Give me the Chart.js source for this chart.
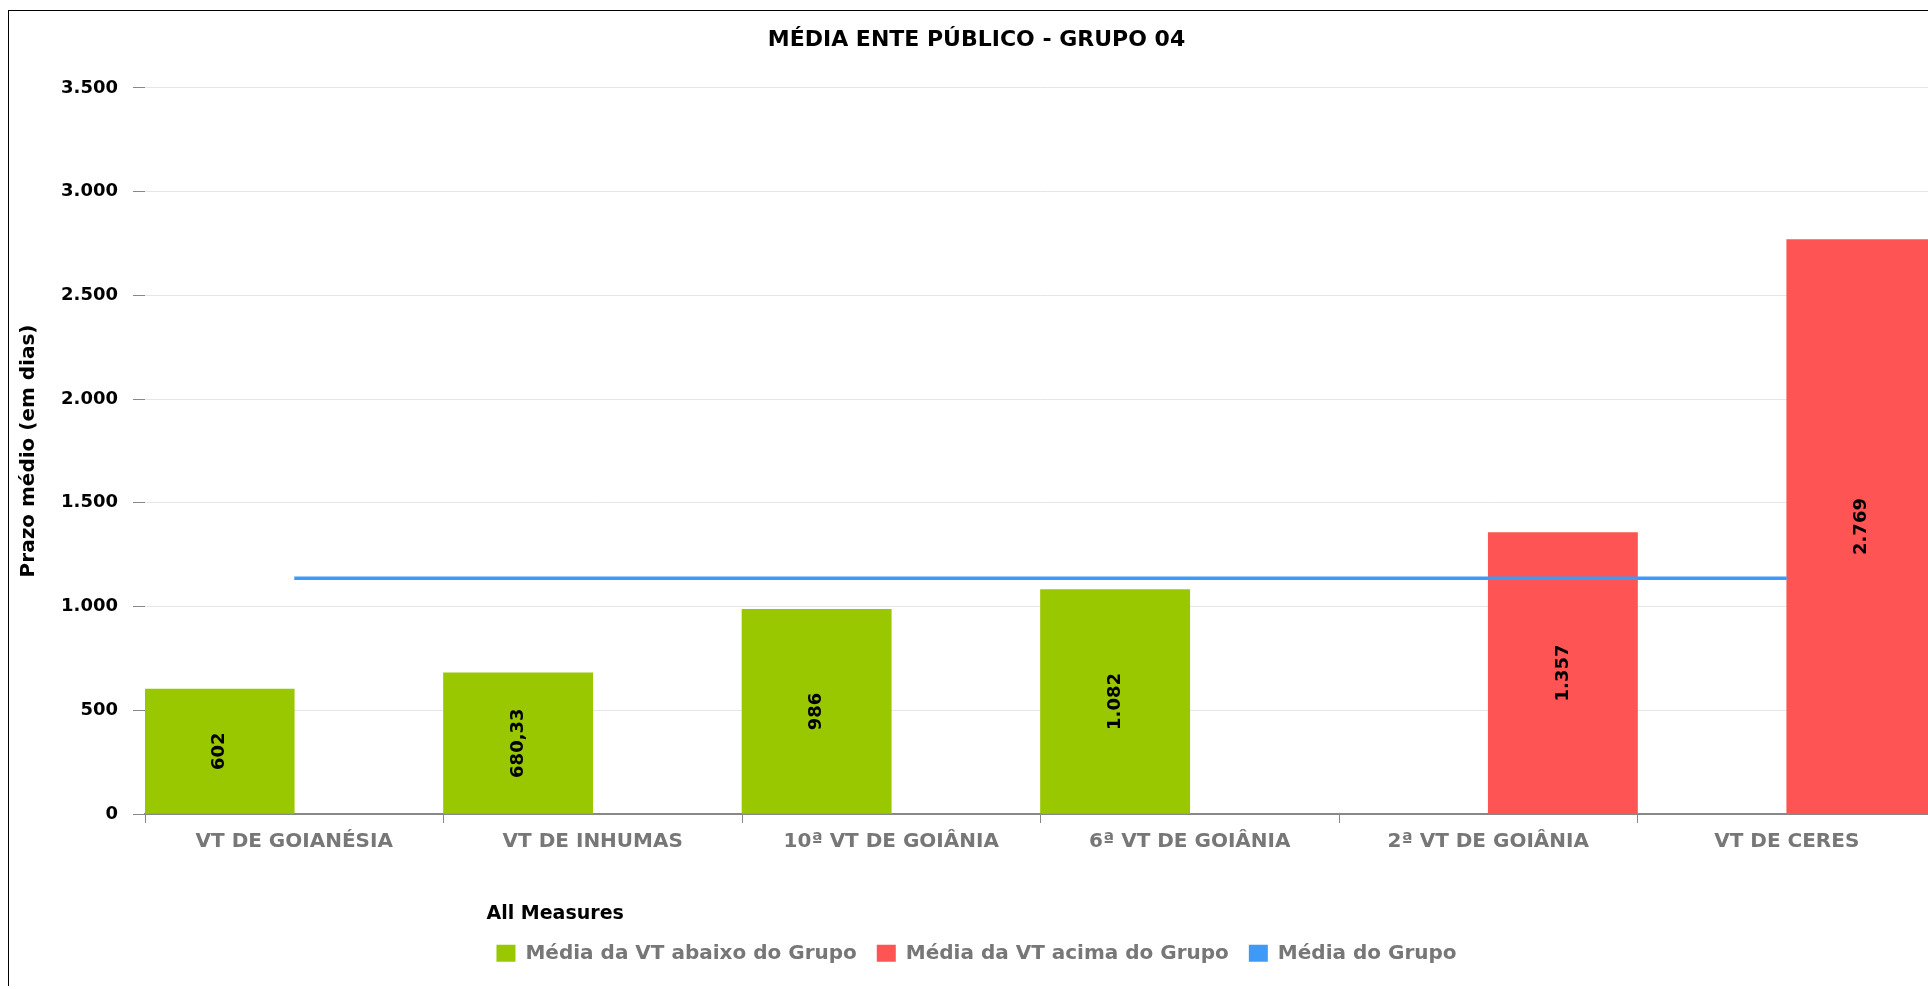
<!DOCTYPE html>
<html>
<head>
<meta charset="utf-8">
<title>Média Ente Público - Grupo 04</title>
<script src="https://cdn.jsdelivr.net/npm/chart.js@4.4.1/dist/chart.umd.min.js"></script>
<style>
    html, body { margin: 0; padding: 0; background: #fff; overflow: hidden; }
    .frame {
        position: absolute;
        left: 8px;
        top: 10px;
        width: 1935px;
        height: 975px;
        border: 1px solid #000;
        border-bottom: none;
    }
</style>
</head>
<body>
<div class="frame">
    <canvas id="chart"></canvas>
</div>
<script>
const categories = ['VT DE GOIANÉSIA', 'VT DE INHUMAS', '10ª VT DE GOIÂNIA', '6ª VT DE GOIÂNIA', '2ª VT DE GOIÂNIA', 'VT DE CERES'];
const abaixoGrupo = [602, 680.33, 986, 1082, null, null];
const acimaGrupo = [null, null, null, null, 1357, 2769];
const mediaGrupo = [1136, 1136, 1136, 1136, 1136, 1136];
const yTicks = [0, 500, 1000, 1500, 2000, 2500, 3000, 3500];

const FONT = "'DejaVu Sans', sans-serif";
const fmt = v => v.toLocaleString('pt-BR', { maximumFractionDigits: 2 });

// vertical value labels in the middle of each bar
const barLabels = {
    id: 'barLabels',
    afterDatasetsDraw(chart) {
        const ctx = chart.ctx;
        chart.data.datasets.forEach((ds, i) => {
            if (ds.type === 'line') return;
            const meta = chart.getDatasetMeta(i);
            meta.data.forEach((bar, j) => {
                const v = ds.data[j];
                if (v == null) return;
                ctx.save();
                ctx.translate(bar.x, (bar.y + bar.base) / 2);
                ctx.rotate(-Math.PI / 2);
                ctx.font = 'bold 18px ' + FONT;
                ctx.fillStyle = '#000';
                ctx.textAlign = 'center';
                ctx.textBaseline = 'middle';
                ctx.fillText(fmt(v), 0, 0);
                ctx.restore();
            });
        });
    }
};

new Chart(document.getElementById('chart'), {
    type: 'bar',
    data: {
        labels: categories,
        datasets: [
            { label: 'Média da VT abaixo do Grupo', data: abaixoGrupo, backgroundColor: '#99c800', order: 1 },
            { label: 'Média da VT acima do Grupo', data: acimaGrupo, backgroundColor: '#ff5454', order: 1 },
            {
                type: 'line', label: 'Média do Grupo', data: mediaGrupo,
                borderColor: '#3d9bf7', backgroundColor: '#3d9bf7',
                borderWidth: 3.5, pointRadius: 0, pointHoverRadius: 0, order: 0
            }
        ]
    },
    options: {
        responsive: true,
        maintainAspectRatio: false,
        animation: false,
        categoryPercentage: 1,
        barPercentage: 1,
        layout: { padding: { left: 8, right: 8, top: 0, bottom: 12.7 } },
        plugins: {
            title: {
                display: true,
                text: 'MÉDIA ENTE PÚBLICO - GRUPO 04',
                color: '#000',
                font: { family: FONT, size: 22, weight: 'bold' },
                padding: { top: 16.5, bottom: 34 }
            },
            legend: {
                position: 'bottom',
                title: {
                    display: true,
                    text: 'All Measures',
                    position: 'start',
                    color: '#000',
                    font: { family: FONT, size: 19, weight: 'bold' },
                    padding: { top: 43.5, bottom: -4 }
                },
                labels: {
                    color: '#777',
                    font: { family: FONT, size: 20, weight: 'bold' },
                    boxWidth: 19,
                    boxHeight: 17,
                    padding: 20,
                    sort: (a, b) => a.datasetIndex - b.datasetIndex,
                    generateLabels(chart) {
                        return Chart.defaults.plugins.legend.labels.generateLabels(chart)
                            .map(item => ({ ...item, lineWidth: 0 }));
                    }
                }
            },
            tooltip: { enabled: false }
        },
        scales: {
            x: {
                grid: { display: true, drawOnChartArea: false, drawTicks: true, tickLength: 9, tickColor: '#888', offset: true },
                border: { display: true, color: '#888', width: 2 },
                ticks: { color: '#777', padding: 7, font: { family: FONT, size: 20, weight: 'bold' }, maxRotation: 0 }
            },
            y: {
                min: yTicks[0],
                max: yTicks[yTicks.length - 1],
                afterBuildTicks(scale) {
                    scale.ticks = yTicks.map(v => ({ value: v }));
                },
                afterFit(scale) {
                    scale.width = 128;
                },
                grid: { color: '#e6e6e6', tickColor: '#888', tickLength: 12, lineWidth: 1 },
                border: { display: false },
                ticks: {
                    color: '#000',
                    padding: 15,
                    font: { family: FONT, size: 18, weight: 'bold' },
                    callback: v => fmt(v)
                },
                title: {
                    display: true,
                    text: 'Prazo médio (em dias)',
                    color: '#000',
                    font: { family: FONT, size: 20, weight: 'bold' },
                    padding: { top: 0, bottom: 0 }
                }
            }
        }
    },
    plugins: [barLabels]
});
</script>
</body>
</html>
